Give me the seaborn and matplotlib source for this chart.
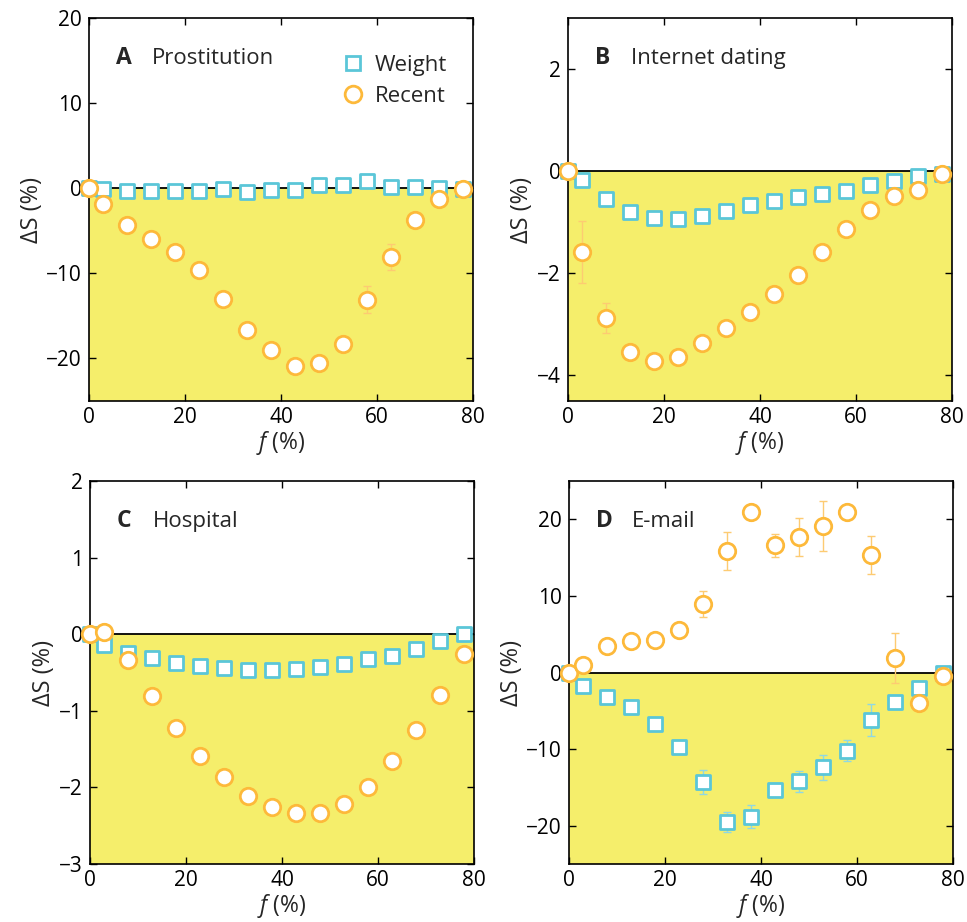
import numpy as np
import pandas as pd
import matplotlib
matplotlib.use('Agg')
import matplotlib.pyplot as plt
import seaborn as sns
from matplotlib.lines import Line2D

# fraction of nodes removed (%)
f_vals = [0, 3, 8, 13, 18, 23, 28, 33, 38, 43, 48, 53, 58, 63, 68, 73, 78]

# A - Prostitution
a_weight = [0, -0.15, -0.3, -0.3, -0.35, -0.3, -0.1, -0.4, -0.2, -0.2, 0.35, 0.35, 0.8, 0.1, 0.1, 0.0, -0.05]
a_recent = [0, -1.9, -4.3, -6.0, -7.5, -9.6, -13.0, -16.7, -19.0, -20.9, -20.5, -18.3, -13.1, -8.1, -3.7, -1.3, -0.15]
a_recent_err = [0, 0, 0, 0, 0, 0, 0.6, 0, 0, 0, 0, 0, 1.6, 1.5, 0, 0, 0]

# B - Internet dating
b_weight = [0, -0.17, -0.54, -0.79, -0.91, -0.93, -0.87, -0.77, -0.67, -0.58, -0.51, -0.44, -0.38, -0.27, -0.2, -0.1, -0.05]
b_recent = [0, -1.58, -2.88, -3.55, -3.71, -3.63, -3.37, -3.07, -2.75, -2.40, -2.03, -1.59, -1.14, -0.75, -0.49, -0.37, -0.06]
b_recent_err = [0, 0.6, 0.29, 0, 0, 0, 0, 0, 0, 0, 0, 0, 0, 0, 0, 0, 0]

# C - Hospital
c_weight = [0, -0.14, -0.25, -0.31, -0.37, -0.41, -0.44, -0.47, -0.47, -0.46, -0.43, -0.39, -0.33, -0.28, -0.19, -0.09, 0.0]
c_recent = [0, 0.03, -0.34, -0.81, -1.23, -1.59, -1.87, -2.11, -2.26, -2.34, -2.33, -2.22, -1.99, -1.66, -1.25, -0.79, -0.26]

# D - E-mail
d_weight = [0, -1.7, -3.2, -4.5, -6.7, -9.7, -14.3, -19.5, -18.8, -15.3, -14.2, -12.4, -10.2, -6.2, -3.8, -2.0, 0.0]
d_weight_err = [0, 0, 0, 0, 0, 0, 1.6, 1.3, 1.5, 0, 1.4, 1.6, 1.35, 2.1, 0, 0, 0]
d_recent = [0, 1.0, 3.5, 4.1, 4.3, 5.6, 9.0, 15.9, 21.0, 16.6, 17.7, 19.1, 20.9, 15.3, 1.9, -4.0, -0.4]
d_recent_err = [0, 0, 0, 0, 0, 0, 1.7, 2.5, 0, 1.5, 2.5, 3.3, 0, 2.5, 3.3, 0, 0]

zeros = [0] * len(f_vals)

panels = [
    ('A', 'Prostitution', a_weight, zeros, a_recent, a_recent_err, (-25, 20), [-20, -10, 0, 10, 20]),
    ('B', 'Internet dating', b_weight, zeros, b_recent, b_recent_err, (-4.5, 3), [-4, -2, 0, 2]),
    ('C', 'Hospital', c_weight, zeros, c_recent, zeros, (-3, 2), [-3, -2, -1, 0, 1, 2]),
    ('D', 'E-mail', d_weight, d_weight_err, d_recent, d_recent_err, (-25, 25), [-20, -10, 0, 10, 20]),
]

cyan = '#5BC6D8'
orange = '#FDB93A'
cyan_light = '#8FD8E4'
orange_light = '#FDCB72'
yellow = '#F5EE6B'

sns.set_style('ticks')
plt.rcParams['font.family'] = ['Open Sans', 'DejaVu Sans']
plt.rcParams['mathtext.fontset'] = 'custom'
plt.rcParams['mathtext.it'] = 'Open Sans:italic'
plt.rcParams['mathtext.rm'] = 'Open Sans'

fig = plt.figure(figsize=(9.67, 9.22), dpi=100)
W, H = 967, 922
boxes = [(89, 18), (568, 18), (90, 481), (569, 481)]
bw, bh = 384, 383

for (letter, name, wt, wt_err, rc, rc_err, ylim, yticks), (x0, y0) in zip(panels, boxes):
    ax = fig.add_axes([x0 / W, 1 - (y0 + bh) / H, bw / W, bh / H])
    ax.set_xlim(0, 80)
    ax.set_ylim(*ylim)
    ax.axhspan(ylim[0], 0, color=yellow, zorder=0, lw=0)
    ax.axhline(0, color='black', lw=1.3, zorder=1)

    df = pd.DataFrame({'f': f_vals, 'weight': wt, 'weight_err': wt_err,
                       'recent': rc, 'recent_err': rc_err})

    ax.errorbar(df['f'], df['weight'], yerr=df['weight_err'], fmt='none',
                ecolor=cyan_light, elinewidth=1, capsize=3, capthick=1, zorder=2)
    ax.errorbar(df['f'], df['recent'], yerr=df['recent_err'], fmt='none',
                ecolor=orange_light, elinewidth=1, capsize=3, capthick=1, zorder=2)

    sns.scatterplot(data=df, x='f', y='weight', ax=ax, marker='s', s=100,
                    facecolor='white', edgecolor=cyan, linewidth=2, zorder=3,
                    clip_on=False)
    sns.scatterplot(data=df, x='f', y='recent', ax=ax, marker='o', s=140,
                    facecolor='white', edgecolor=orange, linewidth=2, zorder=4,
                    clip_on=False)

    ax.set_xticks([0, 20, 40, 60, 80])
    ax.set_yticks(yticks)
    ax.tick_params(direction='in', length=5, width=1, top=True, right=True,
                   labelsize=15, colors='black', pad=5)
    ax.tick_params(axis='x', pad=4)
    for sp in ax.spines.values():
        sp.set_linewidth(1.2)
        sp.set_color('black')
    ax.set_xlabel(r'$\it{f}$ (%)', fontsize=16.5, labelpad=1)
    ax.set_ylabel('ΔS (%)', fontsize=17, labelpad=2)

    ax.text(0.07, 0.895, letter, transform=ax.transAxes, fontsize=16.5,
            fontweight='bold', va='center', ha='left')
    ax.text(0.165, 0.895, name, transform=ax.transAxes, fontsize=16,
            va='center', ha='left')

    if letter == 'A':
        handles = [
            Line2D([], [], ls='none', marker='s', ms=10, mfc='white', mec=cyan, mew=2),
            Line2D([], [], ls='none', marker='o', ms=12, mfc='white', mec=orange, mew=2),
        ]
        ax.legend(handles, ['Weight', 'Recent'], loc='upper right', frameon=False,
                  fontsize=16, handletextpad=0.2, handlelength=1.6,
                  bbox_to_anchor=(0.985, 0.955), labelspacing=0.45)

fig.savefig('out.png', dpi=100)
